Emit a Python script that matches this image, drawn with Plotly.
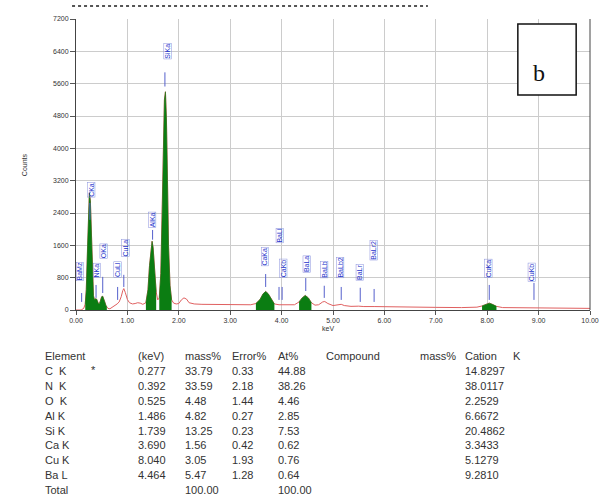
import plotly.graph_objects as go

# ---- EDS spectrum (energy in keV, counts) ----
energy = [0.00, 0.10, 0.15, 0.18, 0.20, 0.22, 0.24, 0.26, 0.28, 0.30, 0.32, 0.34, 0.36, 0.38,
          0.40, 0.42, 0.44, 0.46, 0.48, 0.50, 0.52, 0.54, 0.56, 0.58, 0.60, 0.62, 0.66, 0.70,
          0.75, 0.80, 0.84, 0.88, 0.91, 0.93, 0.96, 1.00, 1.04, 1.10, 1.15, 1.20, 1.25, 1.30,
          1.36, 1.40, 1.43, 1.46, 1.48, 1.50, 1.53, 1.56, 1.59, 1.62, 1.65, 1.68, 1.70, 1.72,
          1.74, 1.76, 1.78, 1.80, 1.83, 1.86, 1.90, 1.95, 2.00, 2.05, 2.10, 2.15, 2.20, 2.30,
          2.45, 2.60, 2.80, 3.00, 3.20, 3.40, 3.50, 3.58, 3.64, 3.69, 3.74, 3.80, 3.86, 3.95,
          4.05, 4.15, 4.25, 4.34, 4.40, 4.46, 4.52, 4.58, 4.65, 4.72, 4.80, 4.84, 4.90, 5.00,
          5.10, 5.16, 5.22, 5.35, 5.50, 5.60, 5.80, 6.00, 6.50, 7.00, 7.50, 7.80, 7.90, 7.98,
          8.04, 8.10, 8.18, 8.30, 8.60, 8.90, 9.20, 9.60, 10.00]
counts = [0, 0, 40, 150, 500, 1400, 2400, 2900, 2700, 1700, 800, 350, 250, 280,
          270, 200, 150, 170, 260, 330, 340, 290, 200, 120, 70, 40, 30, 60,
          100, 150, 200, 330, 480, 530, 430, 260, 180, 150, 160, 180, 170, 140,
          180, 500, 1100, 1600, 1700, 1550, 1000, 450, 250, 300, 900, 2600, 4000, 5200,
          5400, 4700, 3200, 1600, 600, 250, 170, 150, 160, 250, 300, 270, 180, 150,
          140, 140, 130, 130, 125, 130, 160, 260, 400, 460, 400, 260, 150, 130,
          130, 120, 130, 200, 300, 360, 300, 180, 120, 130, 200, 210, 160, 110,
          120, 140, 110, 90, 95, 85, 85, 80, 70, 65, 60, 70, 100, 150,
          170, 140, 90, 60, 55, 65, 50, 45, 40]

# energy windows of the identified element peaks (shaded green)
peak_windows = [(0.17, 0.60), (1.36, 1.58), (1.60, 1.87), (3.50, 3.88), (4.30, 4.62), (7.85, 8.22)]

# ---- line markers ----
marker_names = ["BaMz", "CKa", "NKa", "OKa", "CuLl", "CuLa", "AlKa", "SiKa", "CaKa", "BaLl",
                "CaKb", "BaLa", "BaLb", "BaLb2", "BaLr", "BaLr2", "CuKa", "CuKb"]
marker_kev = [0.11, 0.27, 0.39, 0.52, 0.81, 0.93, 1.49, 1.73, 3.69, 3.95,
              4.01, 4.47, 4.83, 5.16, 5.53, 5.80, 8.04, 8.91]
label_kev = [0.00, 0.21, 0.33, 0.46, 0.73, 0.88, 1.40, 1.71, 3.60, 3.88,
             3.95, 4.41, 4.75, 5.06, 5.44, 5.71, 7.94, 8.79]
label_counts = [940, 2980, 990, 1460, 990, 1540, 2230, 6400, 1310, 1840,
                1020, 1140, 990, 1040, 920, 1490, 1020, 940]
tick_lo = [200, 2230, 300, 420, 250, 570, 1740, 5530, 570, 250,
           250, 470, 300, 250, 200, 200, 250, 250]
tick_hi = [420, 2650, 620, 820, 570, 870, 1980, 5880, 890, 570,
           570, 790, 600, 570, 550, 520, 620, 670]

# ---- quantification table ----
elements = ["C  K", "N  K", "O  K", "Al K", "Si K", "Ca K", "Cu K", "Ba L", "Total"]
kev_col = ["0.277", "0.392", "0.525", "1.486", "1.739", "3.690", "8.040", "4.464", ""]
mass_col = ["33.79", "33.59", "4.48", "4.82", "13.25", "1.56", "3.05", "5.47", "100.00"]
error_col = ["0.33", "2.18", "1.44", "0.27", "0.23", "0.42", "1.93", "1.28", ""]
at_col = ["44.88", "38.26", "4.46", "2.85", "7.53", "0.62", "0.76", "0.64", "100.00"]
cation_col = ["14.8297", "38.0117", "2.2529", "6.6672", "20.4862", "3.3433", "5.1279", "9.2810", ""]
headers = ["Element", "(keV)", "mass%", "Error%", "At%", "Compound", "mass%", "Cation", "K"]

fig = go.Figure()

# full spectrum
fig.add_trace(go.Scatter(x=energy, y=counts, mode="lines",
                         line=dict(color="#e06060", width=1), hoverinfo="skip"))

# green shaded peaks
for lo, hi in peak_windows:
    xs = [e for e in energy if lo <= e <= hi]
    ys = [c for e, c in zip(energy, counts) if lo <= e <= hi]
    fig.add_trace(go.Scatter(x=xs, y=ys, mode="lines", fill="tozeroy",
                             fillcolor="#0b7d12", line=dict(color="#0b7d12", width=0.5),
                             hoverinfo="skip"))

# marker ticks
mx, my = [], []
for k, a, b in zip(marker_kev, tick_lo, tick_hi):
    mx += [k, k, None]
    my += [a, b, None]
fig.add_trace(go.Scatter(x=mx, y=my, mode="lines", line=dict(color="#5560cc", width=1),
                         hoverinfo="skip"))

annotations = []
for name, k, c in zip(marker_names, label_kev, label_counts):
    annotations.append(dict(x=k, y=c, xref="x", yref="y", text=name, showarrow=False,
                            textangle=-90, xanchor="left", yanchor="middle",
                            font=dict(size=7, color="#2233cc", family="Liberation Sans"),
                            bordercolor="#8890dd", borderwidth=0.5, borderpad=0))

# table text, placed in pixel units below the plot
L, R, T, B = 76, 596, 19, 310


def px(xp):
    return (xp - L) / (R - L)


def py(yp):
    return (B - yp) / (B - T)


col_x = [43, 137, 184, 232, 278, 327, 422, 468, 516]
row_y0, row_dy = 356, 14.9
tfont = dict(size=11, color="#333333", family="Liberation Sans")
for hx, h in zip(col_x, headers):
    annotations.append(dict(x=px(hx), y=py(row_y0), xref="paper", yref="paper", text=h,
                            showarrow=False, xanchor="left", yanchor="middle", font=tfont))
columns = [elements, kev_col, mass_col, error_col, at_col, None, None, cation_col]
for ci, col in enumerate(columns):
    if col is None:
        continue
    for ri, val in enumerate(col):
        if val:
            annotations.append(dict(x=px(col_x[ci]), y=py(row_y0 + (ri + 1) * row_dy),
                                    xref="paper", yref="paper", text=val, showarrow=False,
                                    xanchor="left", yanchor="middle", font=tfont))
annotations.append(dict(x=px(89), y=py(370), xref="paper", yref="paper", text="*",
                        showarrow=False, xanchor="left", yanchor="middle", font=tfont))

# axis titles
annotations.append(dict(x=px(18), y=py(165), xref="paper", yref="paper", text="Counts",
                        showarrow=False, textangle=-90,
                        font=dict(size=7, color="#333333", family="Liberation Sans")))
annotations.append(dict(x=px(331), y=py(334), xref="paper", yref="paper", text="keV",
                        showarrow=False, font=dict(size=7, color="#333333", family="Liberation Sans")))

# panel letter
annotations.append(dict(x=px(552), y=py(58), xref="paper", yref="paper", text="b",
                        showarrow=False, font=dict(size=24, color="#111111", family="Liberation Serif")))

shapes = [
    dict(type="rect", xref="paper", yref="paper", x0=px(523), x1=px(582), y0=py(24), y1=py(95),
         line=dict(color="#111111", width=1.5), fillcolor="white"),
    dict(type="line", xref="paper", yref="paper", x0=1, x1=1, y0=0, y1=1,
         line=dict(color="#444444", width=1)),
    dict(type="line", xref="paper", yref="paper", x0=px(72), x1=px(432), y0=py(6), y1=py(6),
         line=dict(color="#555555", width=2, dash="dot")),
]

fig.update_layout(
    width=611, height=500,
    margin=dict(l=L, r=611 - R, t=T, b=500 - B),
    paper_bgcolor="white", plot_bgcolor="white",
    showlegend=False,
    annotations=annotations, shapes=shapes,
    xaxis=dict(range=[0, 10], dtick=1, tickformat=".2f", showgrid=True, gridcolor="#cccccc",
               gridwidth=1, zeroline=False, showline=True, linecolor="#444444", linewidth=1,
               ticks="outside", ticklen=4, tickcolor="#555555",
               tickfont=dict(size=7, color="#333333", family="Liberation Sans")),
    yaxis=dict(range=[0, 7200], dtick=800, showgrid=True, gridcolor="#cccccc", gridwidth=1,
               zeroline=False, showline=True, linecolor="#444444", linewidth=1,
               ticks="outside", ticklen=5, tickcolor="#555555",
               tickfont=dict(size=7, color="#333333", family="Liberation Sans")),
)

fig.write_html("out.html")
